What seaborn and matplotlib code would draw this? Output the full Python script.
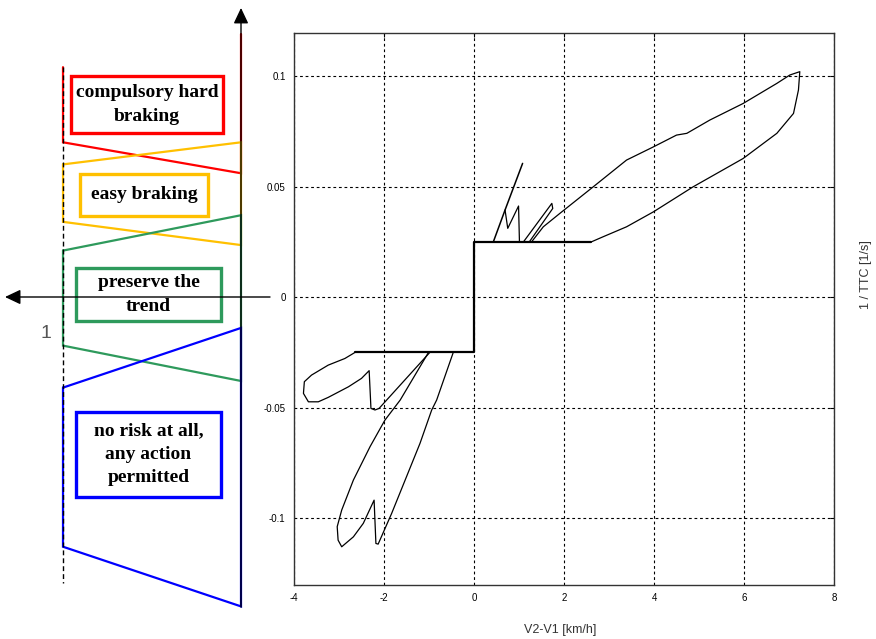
import matplotlib
matplotlib.use("Agg")
import matplotlib.pyplot as plt
import seaborn as sns
from matplotlib.patches import Rectangle

# ---- trajectory of 1/TTC against relative speed ----
step_x = [-2.64, 0.0, 0.0, 2.61]
step_y = [-0.025, -0.025, 0.025, 0.025]

big_loop_x = [2.61, 2.87, 3.39, 3.99, 4.87, 5.98, 6.73, 7.10, 7.21, 7.24, 7.02,
              6.73, 5.98, 5.24, 4.73, 4.50, 3.99, 3.39, 2.65, 1.91, 1.54, 1.28]
big_loop_y = [0.025, 0.0273, 0.0318, 0.0386, 0.0499, 0.0627, 0.0741, 0.0831, 0.0937,
              0.1020, 0.1005, 0.0967, 0.0876, 0.0801, 0.0741, 0.0733, 0.0680, 0.0620,
              0.0499, 0.0379, 0.0318, 0.025]

steep_x = [0.43, 0.69, 1.08]
steep_y = [0.025, 0.0394, 0.0605]

notch_x = [0.69, 0.75, 0.99, 1.01]
notch_y = [0.0394, 0.0311, 0.0412, 0.025]

small_loop_x = [1.10, 1.73, 1.75, 1.23]
small_loop_y = [0.025, 0.0424, 0.0401, 0.025]

left_loop_x = [-2.64, -2.87, -3.24, -3.61, -3.77, -3.79, -3.68, -3.46, -3.24, -2.79,
               -2.50, -2.33, -2.29, -2.20, -2.11, -0.98]
left_loop_y = [-0.025, -0.0278, -0.0308, -0.0353, -0.0383, -0.0436, -0.0474, -0.0474,
               -0.0454, -0.0406, -0.0368, -0.0333, -0.0504, -0.0511, -0.0504, -0.025]

long_loop_x = [-1.01, -1.64, -1.98, -2.31, -2.68, -2.94, -3.04, -3.02, -2.94, -2.68,
               -2.46, -2.22, -2.18, -2.13, -1.83, -1.50, -1.20, -0.94, -0.83, -0.46]
long_loop_y = [-0.025, -0.0466, -0.0557, -0.0677, -0.0828, -0.0964, -0.1039, -0.110,
               -0.113, -0.1085, -0.1024, -0.0919, -0.1115, -0.1118, -0.0979, -0.0813,
               -0.0662, -0.0511, -0.0466, -0.025]

x_ticks = [-4, -2, 0, 2, 4, 6, 8]
x_tick_labels = ["-4", "-2", "0", "2", "4", "6", "8"]
y_ticks = [-0.1, -0.05, 0.0, 0.05, 0.1]
y_tick_labels = ["-0.1", "-0.05", "0", "0.05", "0.1"]

# ---- risk zones of the schematic scale (in 1/TTC units) ----
zone_names = ["compulsory hard\nbraking", "easy braking", "preserve the\ntrend",
              "no risk at all,\nany action\npermitted"]
zone_colors = ["#FF0000", "#FFC000", "#2E9A5C", "#0000FF"]
zone_left_top = [0.104, 0.060, 0.021, -0.041]
zone_left_bottom = [0.070, 0.034, -0.022, -0.113]
zone_right_top = [0.119, 0.070, 0.037, -0.014]
zone_right_bottom = [0.056, 0.0235, -0.038, -0.140]

# ---------------------------------------------------------------
sns.set_style("white")
plt.rcParams["font.family"] = ["Liberation Sans", "DejaVu Sans"]

W, H = 876, 639
fig = plt.figure(figsize=(W / 100, H / 100), dpi=100)

ax = fig.add_axes([294 / W, 1 - 585 / H, 540 / W, 552 / H])
segments = [
    (step_x, step_y, 1.6),
    (big_loop_x, big_loop_y, 0.9),
    (steep_x, steep_y, 1.1),
    (notch_x, notch_y, 0.9),
    (small_loop_x, small_loop_y, 0.9),
    (left_loop_x, left_loop_y, 0.9),
    (long_loop_x, long_loop_y, 0.9),
]
for sx, sy, lw in segments:
    sns.lineplot(x=sx, y=sy, sort=False, estimator=None, color="black",
                 linewidth=lw, ax=ax, zorder=3)

ax.set_xlim(-4, 8)
ax.set_ylim(-0.1303, 0.1195)
ax.set_xticks(x_ticks)
ax.set_xticklabels(x_tick_labels)
ax.set_yticks(y_ticks)
ax.set_yticklabels(y_tick_labels)
ax.grid(True, color="black", linestyle=(0, (2.5, 2.5)), linewidth=0.8)
ax.tick_params(direction="in", length=3, width=0.8, top=True, right=True,
               labelsize=7, pad=6, colors="black")
for sp in ax.spines.values():
    sp.set_color("#333333")
    sp.set_linewidth(1.0)
ax.set_xlabel("")
ax.set_ylabel("")

fig.text(560 / W, 1 - 630 / H, "V2-V1 [km/h]", ha="center", va="center",
         fontsize=9, color="#333333")
fig.text(866 / W, 1 - 275 / H, "1 / TTC [1/s]", ha="center", va="center",
         rotation=90, fontsize=9, color="#333333")

# ---- schematic scale on the left ----
axd = fig.add_axes([0, 0, 280 / W, 1])
axd.set_xlim(-63 / 178, 217 / 178)
axd.set_ylim((297 - H) / 2210, 297 / 2210)
axd.axis("off")

for i, col in enumerate(zone_colors):
    xs = [0, 0, 1, 1]
    ys = [zone_left_top[i], zone_left_bottom[i], zone_right_bottom[i], zone_right_top[i]]
    if i > 0:
        xs.append(0)
        ys.append(zone_left_top[i])
    axd.plot(xs, ys, color=col, lw=1.6, solid_joinstyle="miter", zorder=2)

# dashed reference line at the left edge of the scale
axd.plot([0, 0], [0.104, -0.1294], color="black", lw=1.0,
         linestyle=(0, (3.5, 2.2)), zorder=3)

# axes arrows of the schematic
axd.annotate("", xy=(1, 0.1308), xytext=(1, -0.1403),
             arrowprops=dict(arrowstyle="-|>,head_length=0.95,head_width=0.45",
                             mutation_scale=10, color="black", lw=1.0,
                             shrinkA=0, shrinkB=0), zorder=4)
axd.annotate("", xy=(-0.326, 0), xytext=(1.163, 0),
             arrowprops=dict(arrowstyle="-|>,head_length=0.95,head_width=0.45",
                             mutation_scale=10, color="black", lw=1.0,
                             shrinkA=0, shrinkB=0), zorder=4)

axd.text(-0.0955, -0.0163, "1", fontsize=14, color="#555555",
         ha="center", va="center")

box_left = [0.045, 0.096, 0.073, 0.073]
box_right = [0.899, 0.815, 0.888, 0.888]
box_top = [0.1000, 0.0557, 0.0131, -0.0520]
box_bottom = [0.0742, 0.0367, -0.0109, -0.0905]
for i, name in enumerate(zone_names):
    axd.add_patch(Rectangle((box_left[i], box_bottom[i]),
                            box_right[i] - box_left[i], box_top[i] - box_bottom[i],
                            facecolor="none", edgecolor=zone_colors[i], lw=2.4,
                            zorder=3))
    axd.text((box_left[i] + box_right[i]) / 2, (box_top[i] + box_bottom[i]) / 2,
             name, ha="center", va="center", fontsize=14, fontweight="bold",
             family="Liberation Serif", linespacing=1.5, color="black", zorder=5)

fig.savefig("out.png", dpi=100, facecolor="white")
